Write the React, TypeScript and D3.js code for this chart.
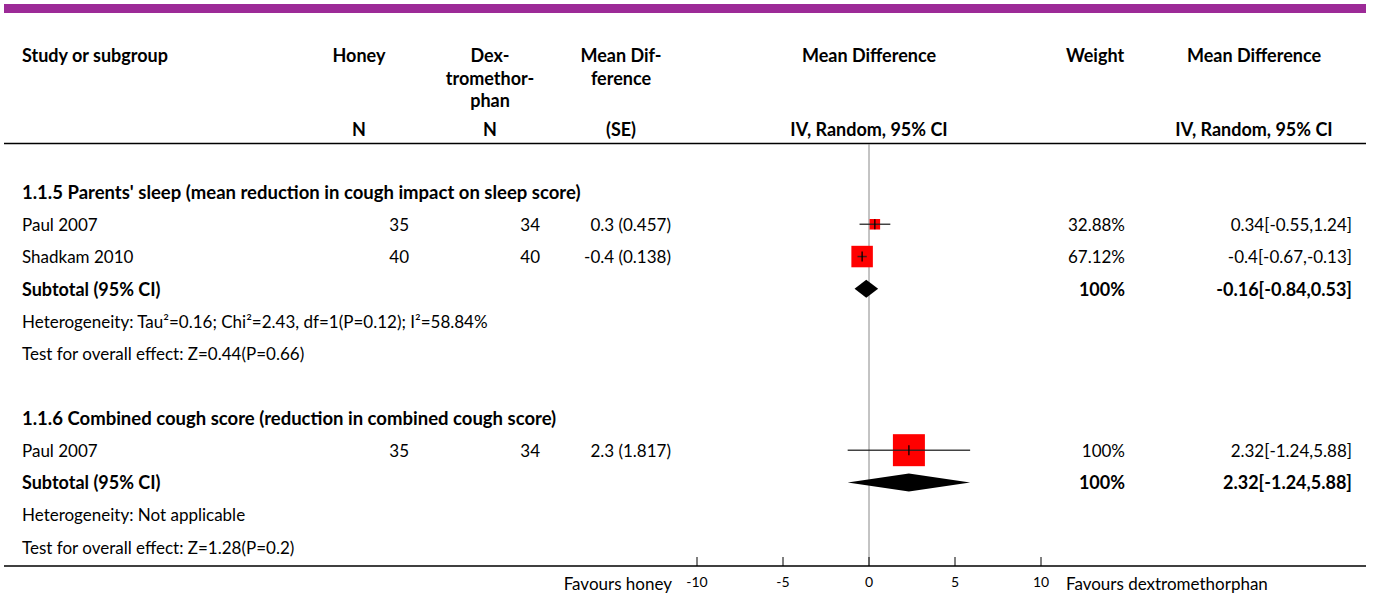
import React from 'react';
import * as d3 from 'd3';

// forest plot data
const groupTitles = [
  "1.1.5 Parents' sleep (mean reduction in cough impact on sleep score)",
  '1.1.6 Combined cough score (reduction in combined cough score)',
];
const studyNames = ['Paul 2007', 'Shadkam 2010', 'Paul 2007'];
const studyGroup = [0, 0, 1];
const honeyN = [35, 40, 35];
const dexN = [34, 40, 34];
const mdSE = ['0.3 (0.457)', '-0.4 (0.138)', '2.3 (1.817)'];
const md = [0.34, -0.4, 2.32];
const ciLow = [-0.55, -0.67, -1.24];
const ciHigh = [1.24, -0.13, 5.88];
const weights = [32.88, 67.12, 100];
const subMd = [-0.16, 2.32];
const subLow = [-0.84, -1.24];
const subHigh = [0.53, 5.88];
const subWeight = ['100%', '100%'];
const heterogeneity = [
  'Heterogeneity: Tau²=0.16; Chi²=2.43, df=1(P=0.12); I²=58.84%',
  'Heterogeneity: Not applicable',
];
const overallEffect = [
  'Test for overall effect: Z=0.44(P=0.66)',
  'Test for overall effect: Z=1.28(P=0.2)',
];
const axisTicks = [-10, -5, 0, 5, 10];

const W = 1375;
const H = 597;
const FONT = 'Lato, sans-serif';

const fmtCI = (m: number, l: number, h: number) => `${m}[${l},${h}]`;

type Row =
  | { kind: 'group'; g: number }
  | { kind: 'study'; i: number }
  | { kind: 'subtotal'; g: number }
  | { kind: 'het'; g: number }
  | { kind: 'overall'; g: number }
  | { kind: 'blank' };

const App = () => {
  const x = d3.scaleLinear().domain([-10, 10]).range([697, 1041]);

  const rows: Row[] = [];
  groupTitles.forEach((_, g) => {
    if (g > 0) rows.push({ kind: 'blank' });
    rows.push({ kind: 'group', g });
    studyNames.forEach((_, i) => {
      if (studyGroup[i] === g) rows.push({ kind: 'study', i });
    });
    rows.push({ kind: 'subtotal', g });
    rows.push({ kind: 'het', g });
    rows.push({ kind: 'overall', g });
  });

  const y = d3.scaleLinear().domain([0, rows.length - 1]).range([192, 547]);
  const size = d3.scaleLinear().domain([0, 100]).range([0, 32]);
  const diamond = (m: number, l: number, h: number, cy: number) =>
    d3.line()([
      [x(l), cy],
      [x(m), cy - 9],
      [x(h), cy],
      [x(m), cy + 9],
    ]) + 'Z';

  const colN1 = 409;
  const colN2 = 540;
  const colSE = 671;
  const colW = 1125;
  const colCI = 1352;
  const textCommon = { fontFamily: FONT, fontSize: 17, fill: '#000', dominantBaseline: 'central' as const };
  const bold = { ...textCommon, fontSize: 18, fontWeight: 700 };

  const headLines = (lines: string[], cx: number) =>
    lines.map((t, k) => (
      <text key={k} x={cx} y={55 + k * 22.5} textAnchor="middle" {...bold}>
        {t}
      </text>
    ));

  return (
    <svg width={W} height={H} style={{ position: 'absolute', left: 0, top: 0, background: '#fff' }}>
      <rect x={4} y={4} width={1362} height={9} fill="#9c2a97" />

      {/* header */}
      <text x={22} y={55} {...bold}>Study or subgroup</text>
      {headLines(['Honey'], 359)}
      {headLines(['Dex-', 'tromethor-', 'phan'], 490)}
      {headLines(['Mean Dif-', 'ference'], 621)}
      {headLines(['Mean Difference'], x(0))}
      {headLines(['Weight'], 1095)}
      {headLines(['Mean Difference'], 1254)}
      {[['N', 359], ['N', 490], ['(SE)', 621], ['IV, Random, 95% CI', x(0)], ['IV, Random, 95% CI', 1254]].map(([t, cx], k) => (
        <text key={k} x={cx as number} y={129} textAnchor="middle" {...bold}>
          {t}
        </text>
      ))}
      <line x1={4} x2={1366} y1={143.5} y2={143.5} stroke="#000" strokeWidth={1.5} />

      {/* zero line */}
      <line x1={x(0)} x2={x(0)} y1={144} y2={566} stroke="#888" strokeWidth={1} />

      {rows.map((r, k) => {
        const cy = y(k);
        if (r.kind === 'group')
          return <text key={k} x={22} y={cy} {...bold} fontSize={18.5}>{groupTitles[r.g]}</text>;
        if (r.kind === 'study') {
          const i = r.i;
          const s = size(weights[i]);
          return (
            <g key={k}>
              <text x={22} y={cy} {...textCommon}>{studyNames[i]}</text>
              <text x={colN1} y={cy} textAnchor="end" {...textCommon}>{honeyN[i]}</text>
              <text x={colN2} y={cy} textAnchor="end" {...textCommon}>{dexN[i]}</text>
              <text x={colSE} y={cy} textAnchor="end" {...textCommon}>{mdSE[i]}</text>
              <rect x={x(md[i]) - s / 2} y={cy - s / 2} width={s} height={s} fill="#ff0000" />
              <line x1={x(ciLow[i])} x2={x(ciHigh[i])} y1={cy} y2={cy} stroke="#222" strokeOpacity={0.85} strokeWidth={1.5} />
              <line x1={x(md[i])} x2={x(md[i])} y1={cy - 5} y2={cy + 5} stroke="#000" strokeWidth={1.3} />
              <text x={colW} y={cy} textAnchor="end" {...textCommon}>{weights[i].toFixed(2).replace(/\.00$/, '')}%</text>
              <text x={colCI} y={cy} textAnchor="end" {...textCommon}>{fmtCI(md[i], ciLow[i], ciHigh[i])}</text>
            </g>
          );
        }
        if (r.kind === 'subtotal') {
          const g = r.g;
          return (
            <g key={k}>
              <text x={22} y={cy} {...bold}>Subtotal (95% CI)</text>
              <path d={diamond(subMd[g], subLow[g], subHigh[g], cy)} fill="#000" />
              <text x={colW} y={cy} textAnchor="end" {...bold}>{subWeight[g]}</text>
              <text x={colCI} y={cy} textAnchor="end" {...bold}>{fmtCI(subMd[g], subLow[g], subHigh[g])}</text>
            </g>
          );
        }
        if (r.kind === 'het')
          return <text key={k} x={22} y={cy} {...textCommon}>{heterogeneity[r.g]}</text>;
        if (r.kind === 'overall')
          return <text key={k} x={22} y={cy} {...textCommon}>{overallEffect[r.g]}</text>;
        return null;
      })}

      {/* bottom axis */}
      <line x1={4} x2={1366} y1={566} y2={566} stroke="#000" strokeWidth={1.5} />
      {axisTicks.map((t) => (
        <g key={t}>
          <line x1={x(t)} x2={x(t)} y1={557} y2={566} stroke="#000" strokeWidth={1} />
          <text x={x(t)} y={581} textAnchor="middle" fontFamily={FONT} fontSize={14} dominantBaseline="central">
            {t}
          </text>
        </g>
      ))}
      <text x={672} y={583} textAnchor="end" {...textCommon}>Favours honey</text>
      <text x={1066} y={583} {...textCommon}>Favours dextromethorphan</text>
    </svg>
  );
};

export default App;
